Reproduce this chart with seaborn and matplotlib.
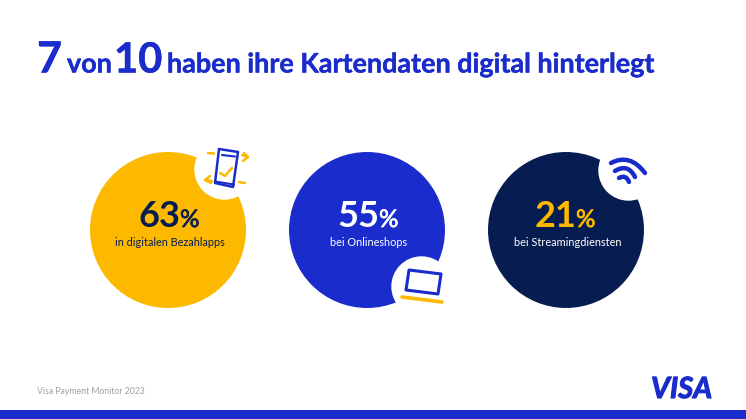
"""Visa Payment Monitor slide: where card data is stored digitally."""

import matplotlib.patheffects as pe
import matplotlib.pyplot as plt
import pandas as pd
import seaborn as sns
from matplotlib.patches import PathPatch, Polygon
from matplotlib.path import Path

CATEGORIES = ["in digitalen Bezahlapps", "bei Onlineshops", "bei Streamingdiensten"]
VALUES = [63, 55, 21]

BLUE = "#1a2ccb"
YELLOW = "#fcb900"
NAVY = "#071d52"

sns.set_theme(style="white")
plt.rcParams["font.family"] = ["Lato", "DejaVu Sans"]

df = pd.DataFrame({"label": CATEGORIES, "value": VALUES})
df["cx"] = [168, 367, 566]
df["cy"] = 230
df["num_right"] = [180, 379, 576]
df["num_color"] = [NAVY, "white", YELLOW]
df["label_color"] = [NAVY, "white", "white"]

fig, ax = plt.subplots(figsize=(7.46, 4.19), dpi=100)
fig.subplots_adjust(0, 0, 1, 1)

# big circles, diameter 156 px = 112.3 pt
sns.scatterplot(
    data=df, x="cx", y="cy", hue="label",
    palette=[YELLOW, BLUE, NAVY],
    s=112.3 ** 2, linewidth=0, legend=False, ax=ax, zorder=2,
)
# white cut-outs for the icons
cut_x = [224, 421, 628]
cut_y = [169, 286, 170]
sns.scatterplot(x=cut_x, y=cut_y, color="white", s=43.5 ** 2, linewidth=0, ax=ax, zorder=3)

ax.set_xlim(0, 746)
ax.set_ylim(419, 0)
ax.set_xlabel("")
ax.set_ylabel("")
ax.axis("off")

# title, pieced together on one baseline
for x, txt, size in [
    (37, "7", 31), (67, "von", 19.4), (114, "10", 30),
    (167, "haben ihre Kartendaten digital hinterlegt", 19.4),
]:
    ax.text(x, 72.5, txt, color=BLUE, fontsize=size, fontweight="bold", va="baseline", zorder=5,
            path_effects=[pe.withStroke(linewidth=0.3, foreground=BLUE)])

# values and captions
for row in df.itertuples():
    ax.text(row.num_right, 227, str(row.value), color=row.num_color, fontsize=26,
            fontweight="bold", ha="right", va="baseline", zorder=5)
    ax.text(row.num_right, 227, "%", color=row.num_color, fontsize=17.5,
            ha="left", va="baseline", zorder=5,
            path_effects=[pe.withStroke(linewidth=0.5, foreground=row.num_color)])
    ax.text(row.cx + 1.5, 245.5, row.label, color=row.label_color, fontsize=7.8,
            ha="center", va="baseline", zorder=5)

# phone icon
ax.add_patch(Polygon([(219, 149), (238, 152), (233, 187), (215, 183)], closed=True,
                     fc="none", ec=BLUE, lw=1.8, joinstyle="round", zorder=6))
ax.plot([222, 235], [155, 156.5], color=BLUE, lw=1.5, zorder=6)
ax.plot([215, 234], [181.5, 184.5], color=BLUE, lw=1.5, zorder=6)
ax.plot([220, 225, 232], [173, 176, 168], color=YELLOW, lw=1.8, zorder=6)
ax.plot([208, 214], [153, 153.5], color=YELLOW, lw=1.8, zorder=6)
ax.plot([242, 248], [155, 157], color=YELLOW, lw=1.8, zorder=6)
ax.plot([244, 248, 243], [153, 157, 161], color=YELLOW, lw=1.8, zorder=6)
ax.plot([205, 212], [180, 181], color=YELLOW, lw=1.8, zorder=6)
ax.plot([210, 205, 211], [176, 180, 183], color=YELLOW, lw=1.8, zorder=6)
ax.plot([239, 245], [182, 183], color=YELLOW, lw=1.8, zorder=6)

# laptop icon
ax.add_patch(Polygon([(409, 270), (441, 274), (438, 294), (406, 290)], closed=True,
                     fc="none", ec=BLUE, lw=2.2, joinstyle="round", zorder=6))
ax.plot([402, 442], [297, 302], color=YELLOW, lw=2.6, zorder=6)

# wifi icon
for start, ctrl, end in [
    ((611, 163), (630, 153), (645, 173)),
    ((615, 171), (628, 163), (635, 177)),
    ((619, 178), (626, 174), (629, 182)),
]:
    curve = Path([start, ctrl, end], [Path.MOVETO, Path.CURVE3, Path.CURVE3])
    ax.add_patch(PathPatch(curve, fc="none", ec=BLUE, lw=3.2, capstyle="round", zorder=6))

# footer
ax.text(37, 393.5, "Visa Payment Monitor 2023", color="#a0a0a0", fontsize=6.2, va="baseline")
ax.text(651, 398, "VISA", color=BLUE, fontsize=21, fontweight="bold", style="italic",
        va="baseline", zorder=5, path_effects=[pe.withStroke(linewidth=0.8, foreground=BLUE)])
ax.axhspan(410, 419, color=BLUE, lw=0)

fig.savefig("out.png", dpi=100)
